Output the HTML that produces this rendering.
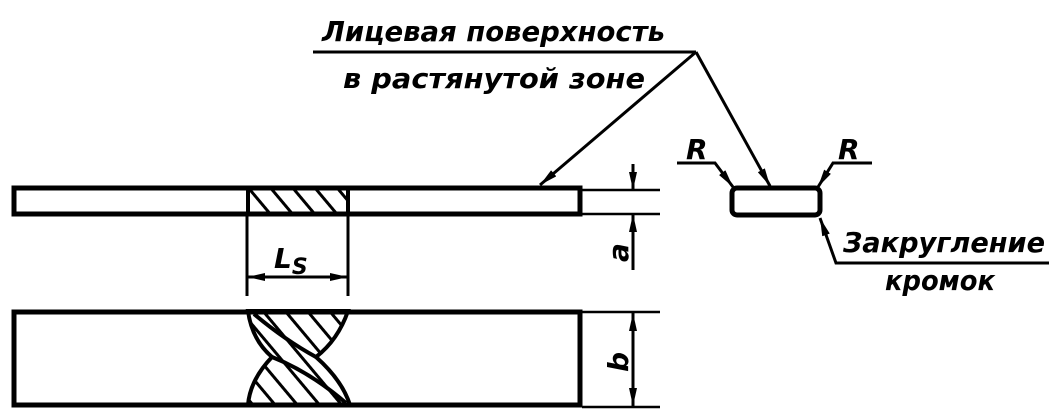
<!DOCTYPE html>
<html><head><meta charset="utf-8"><style>
html,body{margin:0;padding:0;background:#fff;}
svg{display:block;}
text{font-family:"DejaVu Sans","Liberation Sans",sans-serif;font-style:italic;font-weight:bold;fill:#000;}
</style></head><body>
<svg width="1056" height="419" viewBox="0 0 1056 419" xmlns="http://www.w3.org/2000/svg">
<defs>
<pattern id="h" patternUnits="userSpaceOnUse" width="17" height="17" patternTransform="rotate(-40)">
<rect width="17" height="17" fill="#fff"/><line x1="0" y1="0" x2="0" y2="17" stroke="#000" stroke-width="6"/>
</pattern>
<marker id="a" viewBox="0 0 18 8" refX="18" refY="4" markerWidth="18" markerHeight="8" markerUnits="userSpaceOnUse" orient="auto">
<path d="M0,0 L18,4 L0,8 Z" fill="#000"/></marker>
</defs>
<g stroke="#000" fill="none">
<rect x="249" y="188" width="98" height="26" fill="url(#h)" stroke="none"/>
<rect x="14" y="188" width="566" height="26" stroke-width="5"/>
<line x1="248" y1="188" x2="248" y2="214" stroke-width="4"/>
<line x1="348" y1="188" x2="348" y2="214" stroke-width="4"/>
<line x1="247" y1="214" x2="247" y2="296" stroke-width="3"/>
<line x1="348" y1="214" x2="348" y2="296" stroke-width="3"/>
<line x1="300" y1="277" x2="348" y2="277" stroke-width="3" marker-end="url(#a)"/>
<line x1="300" y1="277" x2="247" y2="277" stroke-width="3" marker-end="url(#a)"/>
<line x1="582" y1="190" x2="660" y2="190" stroke-width="2.5"/>
<line x1="582" y1="214" x2="660" y2="214" stroke-width="2.5"/>
<line x1="633" y1="164" x2="633" y2="190" stroke-width="3" marker-end="url(#a)"/>
<line x1="633" y1="270" x2="633" y2="214" stroke-width="3" marker-end="url(#a)"/>
<path d="M248,311 Q252,340 272,357 Q250,380 248,405 L350,405 Q342,380 316,357 Q338,340 348,311 Z" fill="url(#h)" stroke-width="4"/>
<path d="M254,314 Q285,340 316,357" stroke-width="4"/>
<path d="M272,357 Q310,372 346,403" stroke-width="4"/>
<rect x="14" y="312" width="566" height="93" stroke-width="5"/>
<line x1="582" y1="312" x2="660" y2="312" stroke-width="2.5"/>
<line x1="582" y1="407" x2="660" y2="407" stroke-width="2.5"/>
<line x1="633" y1="360" x2="633" y2="313" stroke-width="3" marker-end="url(#a)"/>
<line x1="633" y1="360" x2="633" y2="406" stroke-width="3" marker-end="url(#a)"/>
<line x1="313" y1="52" x2="696" y2="52" stroke-width="3"/>
<line x1="696" y1="52" x2="540" y2="185" stroke-width="3" marker-end="url(#a)"/>
<line x1="696" y1="52" x2="770" y2="186" stroke-width="3" marker-end="url(#a)"/>
<rect x="732" y="188" width="88" height="27" rx="5" stroke-width="5"/>
<polyline points="677,163 715,163 733,187" stroke-width="3" marker-end="url(#a)"/>
<polyline points="872,163 833,163 818,187" stroke-width="3" marker-end="url(#a)"/>
<polyline points="1049,263 836,263 820,218" stroke-width="3" marker-end="url(#a)"/>
</g>
<text x="322" y="41" font-size="28" textLength="343" lengthAdjust="spacingAndGlyphs">Лицевая поверхность</text>
<text x="343" y="88" font-size="28" textLength="302" lengthAdjust="spacingAndGlyphs">в растянутой зоне</text>
<text x="686" y="159" font-size="28">R</text>
<text x="838" y="159" font-size="28">R</text>
<text x="843" y="252" font-size="28" textLength="202" lengthAdjust="spacingAndGlyphs">Закругление</text>
<text x="885" y="290" font-size="28" textLength="110" lengthAdjust="spacingAndGlyphs">кромок</text>
<text x="274" y="268" font-size="28">L<tspan font-size="22" dy="6">S</tspan></text>
<text transform="translate(628,262) rotate(-90)" font-size="28">a</text>
<text transform="translate(628,372) rotate(-90)" font-size="28">b</text>
</svg>
</body></html>
